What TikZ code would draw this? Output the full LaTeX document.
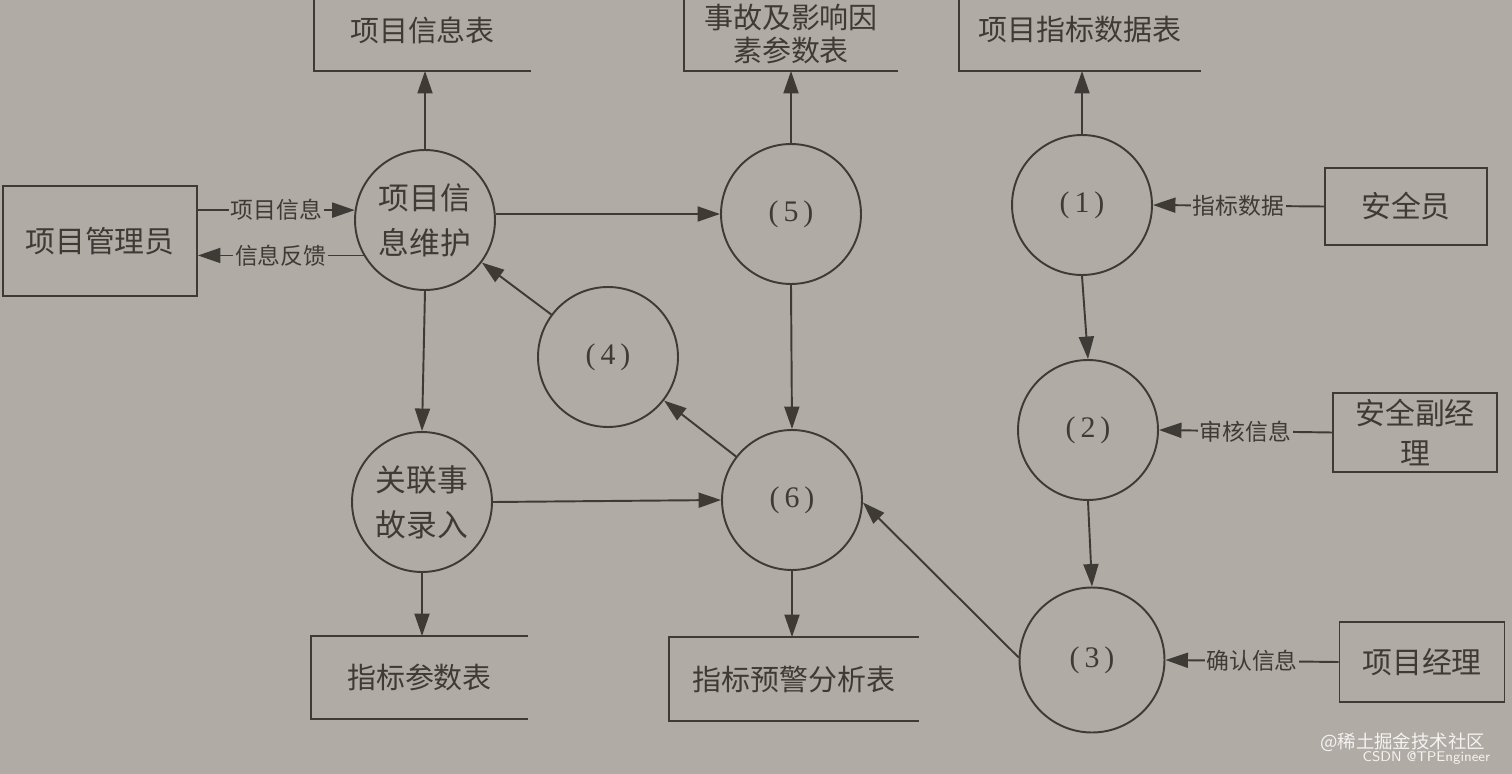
\documentclass[tikz,border=0pt]{standalone}
\usepackage{fontspec}
\setmainfont{Noto Sans CJK SC}
\newfontfamily\numfont{Liberation Serif}
\usepackage{xcolor}
\usetikzlibrary{arrows.meta, positioning, calc}
\definecolor{paper}{RGB}{176,171,164}
\definecolor{ink}{RGB}{62,58,54}

\begin{document}
\begin{tikzpicture}[x=0.02cm, y=-0.02cm, line width=1.1pt, color=ink,
    every node/.style={font=\fontsize{17}{22.5}\selectfont},
    proc/.style={circle, draw, minimum size=2.8cm, inner sep=0pt, align=center, font=\fontsize{17.5}{25.5}\selectfont},
    num/.style={font=\numfont\fontsize{17}{20}\selectfont},
    ent/.style={rectangle, draw, inner sep=2pt, align=center},
    store/.style={inner sep=0pt, align=center, font=\fontsize{16.5}{19}\selectfont},
    flow/.style={-{Triangle[length=4.5mm, width=3mm]}},
    lbl/.style={fill=paper, inner sep=1pt, font=\fontsize{13}{15}\selectfont}]
    \useasboundingbox (0,0) rectangle (1512,774);
    \fill[paper] (0,0) rectangle (1512,774);
    \clip (0,0) rectangle (1512,774);

    % processes
    \node[proc] (maint) at (425,220) {项目信\\息维护};
    \node[proc] (assoc) at (422,502) {关联事\\故录入};
    \node[proc, num] (c5) at (791,214) {(\,5\,)};
    \node[proc, num] (c4) at (608,357) {(\,4\,)};
    \node[proc, num] (c6) at (792,500) {(\,6\,)};
    \node[proc, num] (c1) at (1082,205) {(\,1\,)};
    \node[proc, num] (c2) at (1088,430) {(\,2\,)};
    \node[proc, num, minimum size=2.9cm] (c3) at (1092,660) {(\,3\,)};

    % external entities
    \node[ent, minimum width=3.88cm, minimum height=2.2cm] (pm) at (100,241) {项目管理员};
    \node[ent, minimum width=3.24cm, minimum height=1.54cm] (safe) at (1406,206.5) {安全员};
    \node[ent, minimum width=3.28cm, minimum height=1.58cm] (dep) at (1415,432.5) {安全副经\\理};
    \node[ent, minimum width=3.3cm, minimum height=1.6cm] (mgr) at (1422,662) {项目经理};

    % data stores
    \node[store, minimum width=4.3cm, minimum height=1.6cm] (tInfo) at (422.5,30) {项目信息表};
    \node[store, minimum width=4.24cm, minimum height=1.44cm] (tAcc) at (791,34) {事故及影响因\\素参数表};
    \node[store, minimum width=4.8cm, minimum height=1.6cm] (tIdx) at (1080,30) {项目指标数据表};
    \node[store, minimum width=4.3cm, minimum height=1.62cm] (tPar) at (419.5,677.5) {指标参数表};
    \node[store, minimum width=4.96cm, minimum height=1.64cm] (tWarn) at (794,679) {指标预警分析表};
    \foreach \s in {tInfo,tAcc,tIdx,tPar,tWarn}
        \draw (\s.north east) -- (\s.north west) -- (\s.south west) -- (\s.south east);

    % flows
    \draw[flow] (pm.east |- maint.172) -- node[lbl] {项目信息} (maint.172);
    \draw[flow] (maint.210) -- node[lbl] {信息反馈} (pm.east |- maint.210);
    \draw[flow] (maint.north) -- (maint.north |- tInfo.south);
    \draw[flow] (maint.east |- c5.west) -- (c5.west);
    \draw[flow] (c5.north) -- (c5.north |- tAcc.south);
    \draw[flow] (c5.south) -- (c6.north);
    \draw[flow] (c4) -- (maint);
    \draw[flow] (c6) -- (c4);
    \draw[flow] (maint.south) -- (assoc.north);
    \draw[flow] (assoc.east) -- (c6.west);
    \draw[flow] (assoc.south) -- (assoc.south |- tPar.north);
    \draw[flow] (c6.south) -- (c6.south |- tWarn.north);
    \draw[flow] (c1.north) -- (c1.north |- tIdx.south);
    \draw[flow] (safe.west) -- node[lbl] {指标数据} (c1.east);
    \draw[flow] (c1.south) -- (c2.north);
    \draw[flow] (dep.west) -- node[lbl] {审核信息} (c2.east);
    \draw[flow] (c2.south) -- (c3.north);
    \draw[flow] (mgr.west) -- node[lbl] {确认信息} (c3.east);
    \draw[flow] (c3.178) -- (c6.358);

    % watermark
    \node[anchor=east, text=white!85!paper, font=\fontsize{10.5}{12}\selectfont] (wm1) at (1492,742) {@稀土掘金技术社区};
    \node[anchor=east, text=white!85!paper, font=\sffamily\fontsize{8}{9}\selectfont] (wm2) at (1497,758) {CSDN @TPEngineer};
\end{tikzpicture}
\end{document}
